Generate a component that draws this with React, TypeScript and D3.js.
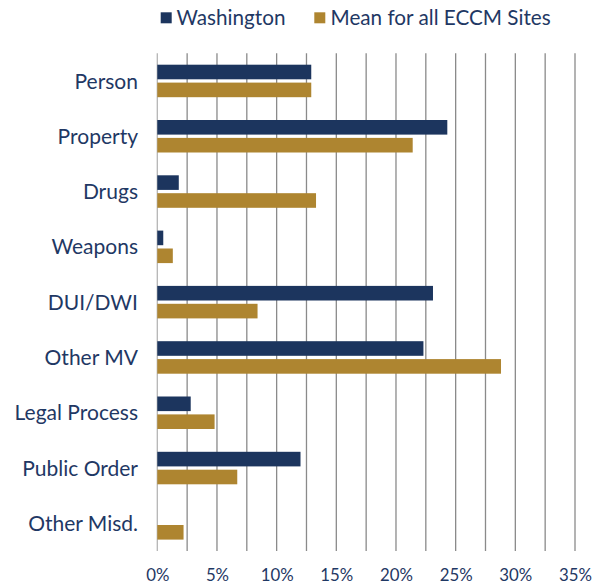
import * as d3 from 'd3';
import React from 'react';

// offence categories, top to bottom
const categories = ['Person', 'Property', 'Drugs', 'Weapons', 'DUI/DWI', 'Other MV', 'Legal Process', 'Public Order', 'Other Misd.'];
const seriesNames = ['Washington', 'Mean for all ECCM Sites'];
// percent of cases
const washington = [12.9, 24.3, 1.8, 0.5, 23.1, 22.3, 2.8, 12.0, 0];
const eccmMean = [12.9, 21.4, 13.3, 1.3, 8.4, 28.8, 4.8, 6.7, 2.2];
const gridTicks = d3.range(0, 35.01, 2.5);
const labelTicks = [0, 5, 10, 15, 20, 25, 30, 35];

const params = {
  width: 592,
  height: 585,
  left: 157.3,
  right: 575,
  top: 53.3,
  bottom: 551,
};

const colors = ['#1c355e', '#ae8530'];
const textColor = '#1f3864';
const font = 'Lato, "Noto Sans", sans-serif';

export default function App() {
  const x = d3.scaleLinear().domain([0, 35]).range([params.left, params.right]);
  const y = d3.scaleBand<string>().domain(categories).range([params.top, params.bottom]);
  const inner = d3.scaleBand<string>().domain(seriesNames).range([11.4, 43.9]).paddingInner(0.184);
  const series = [washington, eccmMean];

  return (
    <div style={{ position: 'absolute', left: 0, top: 0 }}>
      <svg width={params.width} height={params.height} style={{ display: 'block', background: '#fff' }}>
        <g id="grid">
          {gridTicks.map(t => (
            <line key={t} x1={x(t)} x2={x(t)} y1={params.top} y2={params.bottom}
              stroke={t === 0 ? '#b5b5b5' : '#8a8a8a'} strokeWidth={1.3} />
          ))}
        </g>
        <g id="bars">
          {categories.map((c, i) => (
            <g key={c} transform={`translate(0,${y(c)})`}>
              {series.map((s, j) => s[i] > 0 ? (
                <rect key={j} x={x(0)} y={inner(seriesNames[j])} width={x(s[i]) - x(0)}
                  height={inner.bandwidth()} fill={colors[j]} />
              ) : null)}
            </g>
          ))}
        </g>
        <g id="categories" fontFamily={font} fontSize={21} fill={textColor} textAnchor="end">
          {categories.map(c => (
            <text key={c} x={138} y={(y(c) as number) + y.bandwidth() / 2} dy="0.36em">{c}</text>
          ))}
        </g>
        <g id="xlabels" fontFamily={font} fontSize={16.8} fill={textColor} textAnchor="middle">
          {labelTicks.map(t => (
            <text key={t} x={x(t) + 0.5} y={581}>{t}%</text>
          ))}
        </g>
        <g id="legend" fontFamily={font} fontSize={20.7} fill={textColor}>
          <rect x={160.7} y={12.3} width={11} height={11} fill={colors[0]} />
          <text x={176.5} y={25}>{seriesNames[0]}</text>
          <rect x={314.3} y={12.3} width={11} height={11} fill={colors[1]} />
          <text x={330.5} y={25}>{seriesNames[1]}</text>
        </g>
      </svg>
    </div>
  );
}
